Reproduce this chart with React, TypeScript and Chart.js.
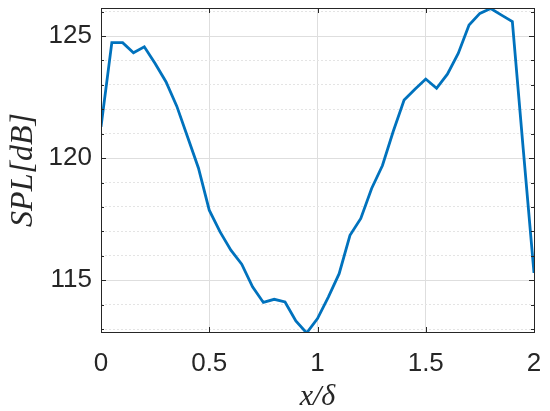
import React, { useEffect, useRef } from "react";
import { Chart, registerables } from "chart.js";

Chart.register(...registerables);

const xPositions = [
  0, 0.05, 0.1, 0.15, 0.2, 0.25, 0.3, 0.35, 0.4, 0.45,
  0.5, 0.55, 0.6, 0.65, 0.7, 0.75, 0.8, 0.85, 0.9, 0.95,
  1.0, 1.05, 1.1, 1.15, 1.2, 1.25, 1.3, 1.35, 1.4, 1.45,
  1.5, 1.55, 1.6, 1.65, 1.7, 1.75, 1.8, 1.85, 1.9, 1.95, 2.0,
];

const splValues = [
  121.28, 124.73, 124.73, 124.32, 124.56, 123.88, 123.13, 122.13, 120.87, 119.6,
  117.87, 116.98, 116.23, 115.66, 114.73, 114.09, 114.22, 114.11, 113.33, 112.84,
  113.43, 114.31, 115.27, 116.84, 117.53, 118.76, 119.7, 121.1, 122.38, 122.82,
  123.24, 122.86, 123.44, 124.29, 125.45, 125.93, 126.13, 125.86, 125.59, 120.4, 115.3,
];

const xTickValues = [0, 0.5, 1, 1.5, 2];
const yTickLabels = [115, 120, 125];

const X_MIN = 0;
const X_MAX = 2;
const Y_MIN = 112.88;
const Y_MAX = 126.15;

const boxPlugin = {
  id: "matlabBox",
  afterDraw(chart: any) {
    const { ctx, chartArea, scales } = chart;
    const { left, right, top, bottom } = chartArea;
    ctx.save();
    ctx.strokeStyle = "#262626";
    ctx.lineWidth = 1;
    ctx.beginPath();
    const xs = scales.x;
    xTickValues.forEach((v) => {
      const px = Math.round(xs.getPixelForValue(v)) + 0.5;
      ctx.moveTo(px, bottom);
      ctx.lineTo(px, bottom - 5);
      ctx.moveTo(px, top);
      ctx.lineTo(px, top + 5);
    });
    const ys = scales.y;
    ys.ticks.forEach((t: any) => {
      const v = t.value;
      if (v < Y_MIN || v > Y_MAX) return;
      const len = yTickLabels.includes(v) ? 5 : 3;
      const py = Math.round(ys.getPixelForValue(v)) + 0.5;
      ctx.moveTo(left, py);
      ctx.lineTo(left + len, py);
      ctx.moveTo(right, py);
      ctx.lineTo(right - len, py);
    });
    ctx.stroke();
    ctx.strokeRect(
      Math.round(left) + 0.5,
      Math.round(top) + 0.5,
      Math.round(right - left),
      Math.round(bottom - top)
    );
    ctx.restore();
  },
};

const bgPlugin = {
  id: "whiteBg",
  beforeDraw(chart: any) {
    const { ctx, width, height } = chart;
    ctx.save();
    ctx.fillStyle = "#ffffff";
    ctx.fillRect(0, 0, width, height);
    ctx.restore();
  },
};

export default function App() {
  const canvasRef = useRef<HTMLCanvasElement | null>(null);

  useEffect(() => {
    document.body.style.margin = "0";
    const canvas = canvasRef.current;
    if (!canvas) return;
    const chart = new Chart(canvas, {
      type: "line",
      data: {
        datasets: [
          {
            data: xPositions.map((x, i) => ({ x, y: splValues[i] })),
            borderColor: "#0072BD",
            borderWidth: 2.8,
            pointRadius: 0,
            fill: false,
            tension: 0,
          },
        ],
      },
      options: {
        animation: false,
        responsive: false,
        layout: { padding: { top: 8, right: 16, left: 0, bottom: 0 } },
        plugins: {
          legend: { display: false },
          tooltip: { enabled: false },
        },
        scales: {
          x: {
            type: "linear",
            min: X_MIN,
            max: X_MAX,
            afterFit: (scale: any) => {
              scale.height = 79;
              scale.paddingLeft = 0;
              scale.paddingRight = 0;
              scale.paddingTop = 0;
              scale.paddingBottom = 0;
            },
            ticks: {
              stepSize: 0.5,
              padding: 16,
              color: "#262626",
              font: { family: "Liberation Sans", size: 26 },
              callback: (v: any) => String(v),
              maxRotation: 0,
            },
            grid: {
              drawTicks: false,
              color: "#dedede",
              lineWidth: 1,
            },
            border: { display: false },
            title: {
              display: true,
              text: "x/δ",
              color: "#262626",
              font: { family: "Liberation Serif", size: 30, style: "italic" },
              padding: { top: 0, bottom: -4 },
            },
          },
          y: {
            type: "linear",
            min: Y_MIN,
            max: Y_MAX,
            afterFit: (scale: any) => {
              scale.width = 101;
              scale.paddingLeft = 0;
              scale.paddingRight = 0;
              scale.paddingTop = 0;
              scale.paddingBottom = 0;
            },
            ticks: {
              stepSize: 1,
              includeBounds: false,
              padding: 9,
              color: "#262626",
              font: { family: "Liberation Sans", size: 26 },
              callback: (v: any) => (yTickLabels.includes(v) ? String(v) : ""),
              autoSkip: false,
            },
            grid: {
              drawTicks: false,
              color: (ctx: any) =>
                ctx.tick && yTickLabels.includes(ctx.tick.value) ? "#dedede" : "#e4e4e4",
              lineWidth: 1,
            },
            border: {
              display: false,
              dash: (ctx: any) =>
                ctx.tick && !yTickLabels.includes(ctx.tick.value) ? [2, 2] : [],
            },
            title: {
              display: true,
              text: "SPL[dB]",
              color: "#262626",
              font: { family: "Liberation Serif", size: 32, style: "italic" },
              padding: { top: 4, bottom: 0 },
            },
          },
        },
      },
      plugins: [bgPlugin, boxPlugin],
    });
    return () => chart.destroy();
  }, []);

  return (
    <div style={{ width: 550, height: 411 }}>
      <canvas ref={canvasRef} width={550} height={411} />
    </div>
  );
}
